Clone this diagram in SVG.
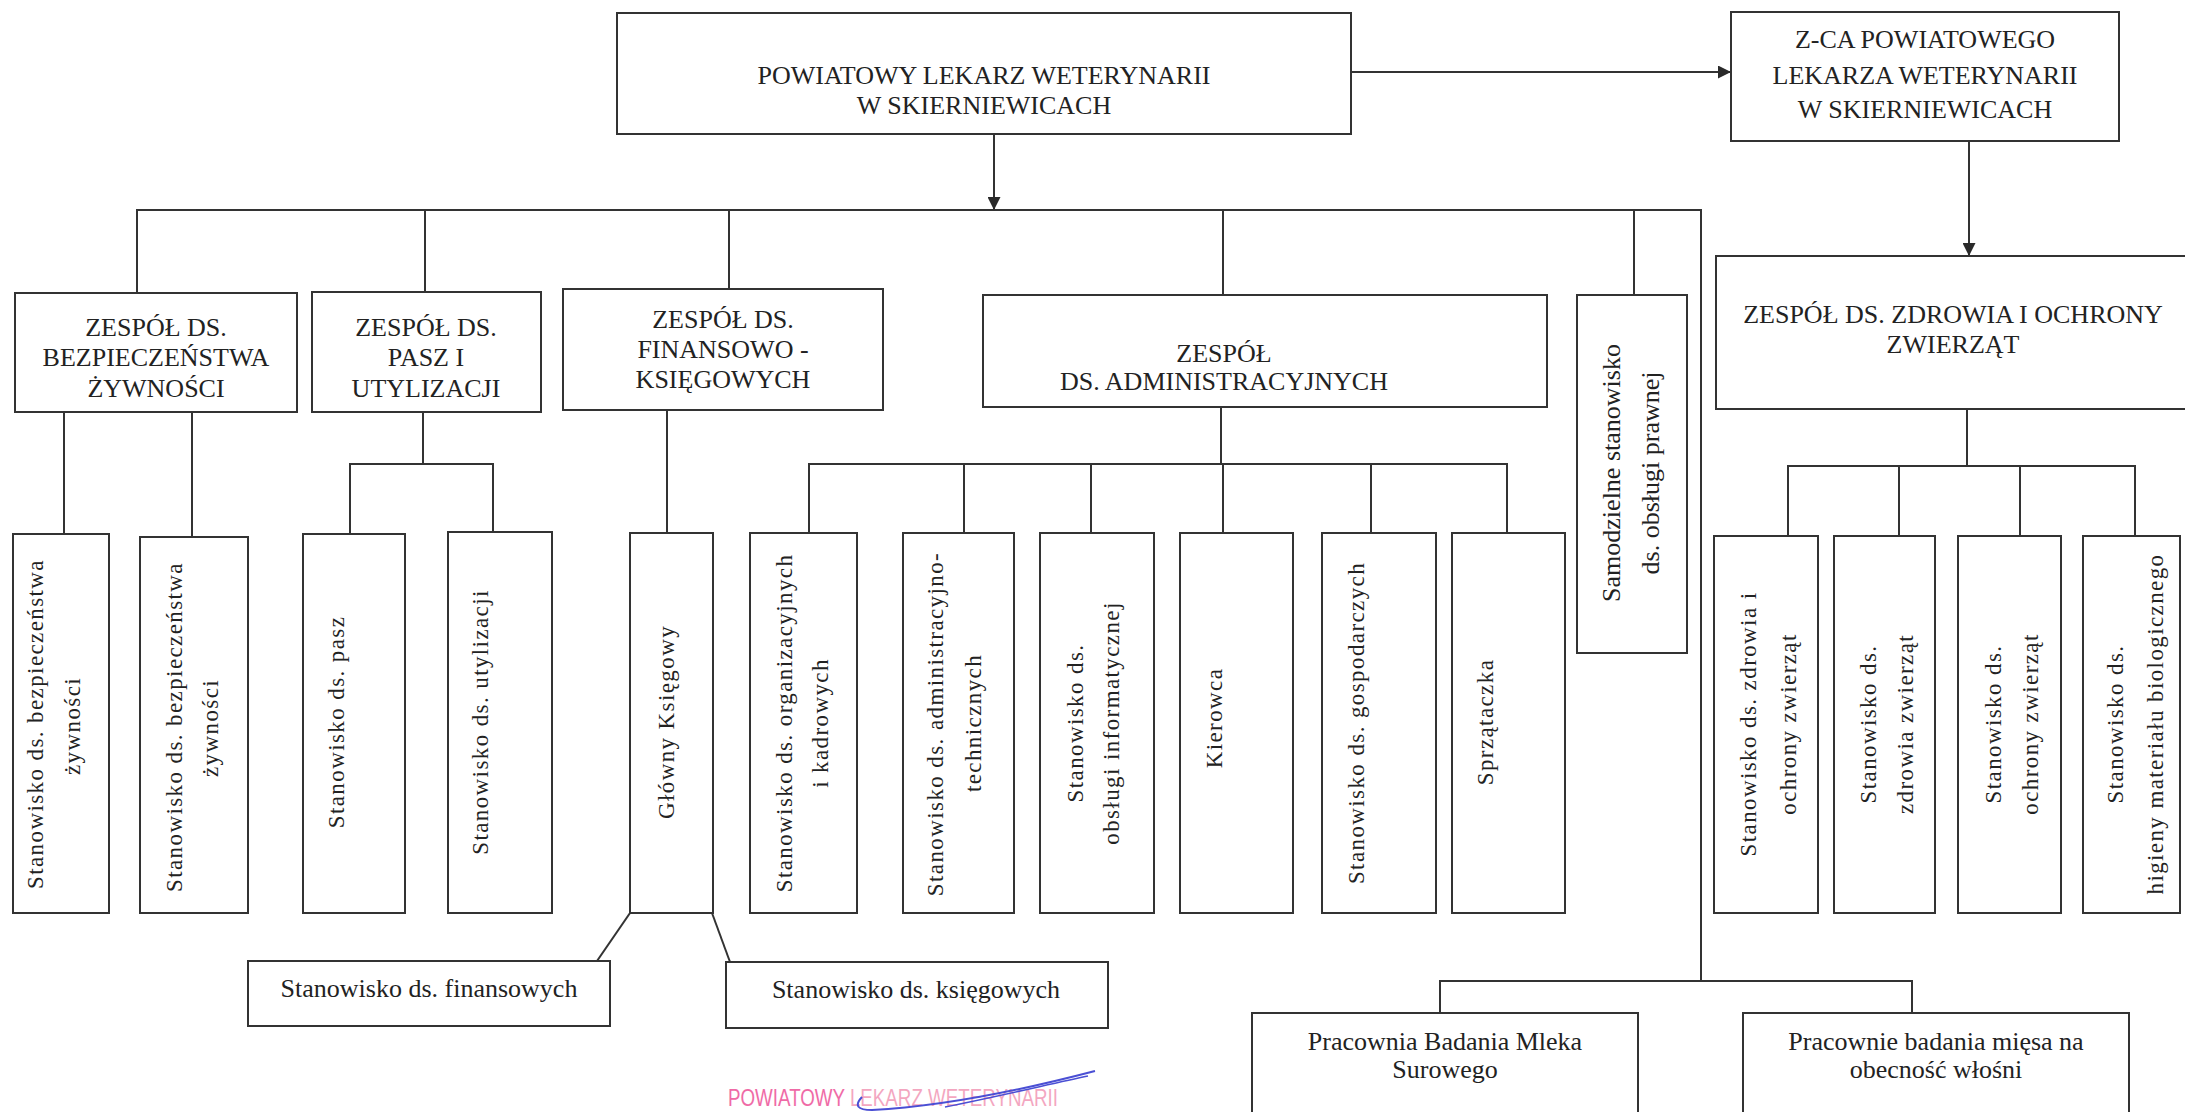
<svg xmlns="http://www.w3.org/2000/svg" width="2185" height="1112" viewBox="0 0 2185 1112">
<defs>
<marker id="arr" viewBox="0 0 10 10" refX="10" refY="5" markerWidth="15" markerHeight="13" markerUnits="userSpaceOnUse" orient="auto">
<path d="M0,0 L10,5 L0,10 z" fill="#2a2a2a"/>
</marker>
<linearGradient id="stampfill" gradientUnits="userSpaceOnUse" x1="728" y1="0" x2="1058" y2="0">
<stop offset="0" stop-color="#ef6aa6"/>
<stop offset="0.37" stop-color="#ef6aa6"/>
<stop offset="0.37" stop-color="#f3a6c0"/>
<stop offset="1" stop-color="#f3a6c0"/>
</linearGradient>
<style>
.box{fill:#fff;stroke:#333;stroke-width:2}
.ln{fill:none;stroke:#333;stroke-width:2}
.h{font-family:"Liberation Serif","Times New Roman",serif;font-size:26px;fill:#222;text-anchor:middle}
.v{font-family:"Liberation Serif","Times New Roman",serif;font-size:23px;letter-spacing:1.4px;fill:#222;text-anchor:middle}
.v2{font-family:"Liberation Serif","Times New Roman",serif;font-size:26px;fill:#222;text-anchor:middle}
.stamp{font-family:"Liberation Sans",Arial,sans-serif;font-size:24px}
</style>
</defs>
<rect width="2185" height="1112" fill="#fff"/>

<g id="connectors">
<line class="ln" x1="994" y1="134" x2="994" y2="210" marker-end="url(#arr)"/>
<line class="ln" x1="1351" y1="72" x2="1731" y2="72" marker-end="url(#arr)"/>
<line class="ln" x1="1969" y1="141" x2="1969" y2="256" marker-end="url(#arr)"/>
<polyline class="ln" points="137,293 137,210 1701,210 1701,981"/>
<line class="ln" x1="425" y1="210" x2="425" y2="292"/>
<line class="ln" x1="729" y1="210" x2="729" y2="289"/>
<line class="ln" x1="1223" y1="210" x2="1223" y2="295"/>
<line class="ln" x1="1634" y1="210" x2="1634" y2="295"/>
<polyline class="ln" points="1440,1013 1440,981 1912,981 1912,1013"/>
<line class="ln" x1="64" y1="412" x2="64" y2="534"/>
<line class="ln" x1="192" y1="412" x2="192" y2="537"/>
<line class="ln" x1="423" y1="412" x2="423" y2="464"/>
<polyline class="ln" points="350,534 350,464 493,464 493,532"/>
<line class="ln" x1="667" y1="410" x2="667" y2="533"/>
<line class="ln" x1="630" y1="913" x2="597" y2="961"/>
<line class="ln" x1="712" y1="913" x2="730" y2="962"/>
<line class="ln" x1="1221" y1="407" x2="1221" y2="464"/>
<polyline class="ln" points="809,533 809,464 1507,464 1507,533"/>
<line class="ln" x1="964" y1="464" x2="964" y2="533"/>
<line class="ln" x1="1091" y1="464" x2="1091" y2="533"/>
<line class="ln" x1="1223" y1="464" x2="1223" y2="533"/>
<line class="ln" x1="1371" y1="464" x2="1371" y2="533"/>
<line class="ln" x1="1967" y1="409" x2="1967" y2="466"/>
<polyline class="ln" points="1788,536 1788,466 2135,466 2135,536"/>
<line class="ln" x1="1899" y1="466" x2="1899" y2="536"/>
<line class="ln" x1="2020" y1="466" x2="2020" y2="536"/>
</g>

<g id="n-main">
<rect class="box" x="617" y="13" width="734" height="121"/>
<text class="h" x="984" y="84">POWIATOWY LEKARZ WETERYNARII</text>
<text class="h" x="984" y="114">W SKIERNIEWICACH</text>
</g>
<g id="n-zca">
<rect class="box" x="1731" y="12" width="388" height="129"/>
<text class="h" x="1925" y="48">Z-CA POWIATOWEGO</text>
<text class="h" x="1925" y="84">LEKARZA WETERYNARII</text>
<text class="h" x="1925" y="118">W SKIERNIEWICACH</text>
</g>
<g id="n-bezp">
<rect class="box" x="15" y="293" width="282" height="119"/>
<text class="h" x="156" y="336">ZESPÓŁ DS.</text>
<text class="h" x="156" y="366">BEZPIECZEŃSTWA</text>
<text class="h" x="156" y="397">ŻYWNOŚCI</text>
</g>
<g id="n-pasz">
<rect class="box" x="312" y="292" width="229" height="120"/>
<text class="h" x="426" y="336">ZESPÓŁ DS.</text>
<text class="h" x="426" y="366">PASZ I</text>
<text class="h" x="426" y="397">UTYLIZACJI</text>
</g>
<g id="n-fin">
<rect class="box" x="563" y="289" width="320" height="121"/>
<text class="h" x="723" y="328">ZESPÓŁ DS.</text>
<text class="h" x="723" y="358">FINANSOWO -</text>
<text class="h" x="723" y="388">KSIĘGOWYCH</text>
</g>
<g id="n-adm">
<rect class="box" x="983" y="295" width="564" height="112"/>
<text class="h" x="1224" y="362">ZESPÓŁ</text>
<text class="h" x="1224" y="390">DS. ADMINISTRACYJNYCH</text>
</g>
<g id="n-zdr">
<rect class="box" x="1716" y="256" width="480" height="153"/>
<text class="h" x="1953" y="323">ZESPÓŁ DS. ZDROWIA I OCHRONY</text>
<text class="h" x="1953" y="353">ZWIERZĄT</text>
</g>

<g id="n-s1">
<rect class="box" x="13" y="534" width="96" height="379"/>
<text class="v" transform="translate(43,724) rotate(-90)">Stanowisko ds. bezpieczeństwa</text>
<text class="v" transform="translate(80,726) rotate(-90)">żywności</text>
</g>
<g id="n-s2">
<rect class="box" x="140" y="537" width="108" height="376"/>
<text class="v" transform="translate(182,727) rotate(-90)">Stanowisko ds. bezpieczeństwa</text>
<text class="v" transform="translate(218,728) rotate(-90)">żywności</text>
</g>
<g id="n-s3">
<rect class="box" x="303" y="534" width="102" height="379"/>
<text class="v" transform="translate(344,722) rotate(-90)">Stanowisko ds. pasz</text>
</g>
<g id="n-s4">
<rect class="box" x="448" y="532" width="104" height="381"/>
<text class="v" transform="translate(488,722) rotate(-90)">Stanowisko ds. utylizacji</text>
</g>
<g id="n-gk">
<rect class="box" x="630" y="533" width="83" height="380"/>
<text class="v" transform="translate(674,722) rotate(-90)">Główny Księgowy</text>
</g>
<g id="n-fin1">
<rect class="box" x="248" y="961" width="362" height="65"/>
<text class="h" x="429" y="997">Stanowisko ds. finansowych</text>
</g>
<g id="n-fin2">
<rect class="box" x="726" y="962" width="382" height="66"/>
<text class="h" x="916" y="998">Stanowisko ds. księgowych</text>
</g>
<g id="n-org">
<rect class="box" x="750" y="533" width="107" height="380"/>
<text class="v" transform="translate(792,723) rotate(-90)">Stanowisko ds. organizacyjnych</text>
<text class="v" transform="translate(828,723) rotate(-90)">i kadrowych</text>
</g>
<g id="n-admt">
<rect class="box" x="903" y="533" width="111" height="380"/>
<text class="v" transform="translate(943,724) rotate(-90)">Stanowisko ds. administracyjno-</text>
<text class="v" transform="translate(981,723) rotate(-90)">technicznych</text>
</g>
<g id="n-inf">
<rect class="box" x="1040" y="533" width="114" height="380"/>
<text class="v" transform="translate(1083,723) rotate(-90)">Stanowisko ds.</text>
<text class="v" transform="translate(1119,723) rotate(-90)">obsługi informatycznej</text>
</g>
<g id="n-kier">
<rect class="box" x="1180" y="533" width="113" height="380"/>
<text class="v" transform="translate(1222,718) rotate(-90)">Kierowca</text>
</g>
<g id="n-gosp">
<rect class="box" x="1322" y="533" width="114" height="380"/>
<text class="v" transform="translate(1364,723) rotate(-90)">Stanowisko ds. gospodarczych</text>
</g>
<g id="n-sprz">
<rect class="box" x="1452" y="533" width="113" height="380"/>
<text class="v" transform="translate(1493,722) rotate(-90)">Sprzątaczka</text>
</g>
<g id="n-praw">
<rect class="box" x="1577" y="295" width="110" height="358"/>
<text class="v2" transform="translate(1620,473) rotate(-90)">Samodzielne stanowisko</text>
<text class="v2" transform="translate(1659,473) rotate(-90)">ds. obsługi prawnej</text>
</g>
<g id="n-z1">
<rect class="box" x="1714" y="536" width="104" height="377"/>
<text class="v" transform="translate(1756,724) rotate(-90)">Stanowisko ds. zdrowia  i</text>
<text class="v" transform="translate(1796,724) rotate(-90)">ochrony zwierząt</text>
</g>
<g id="n-z2">
<rect class="box" x="1834" y="536" width="101" height="377"/>
<text class="v" transform="translate(1876,724) rotate(-90)">Stanowisko ds.</text>
<text class="v" transform="translate(1913,724) rotate(-90)">zdrowia zwierząt</text>
</g>
<g id="n-z3">
<rect class="box" x="1958" y="536" width="103" height="377"/>
<text class="v" transform="translate(2001,724) rotate(-90)">Stanowisko ds.</text>
<text class="v" transform="translate(2038,724) rotate(-90)">ochrony zwierząt</text>
</g>
<g id="n-z4">
<rect class="box" x="2083" y="536" width="97" height="377"/>
<text class="v" transform="translate(2123,724) rotate(-90)">Stanowisko ds.</text>
<text class="v" transform="translate(2163,724) rotate(-90)">higieny materiału biologicznego</text>
</g>
<g id="n-p1">
<rect class="box" x="1252" y="1013" width="386" height="110"/>
<text class="h" x="1445" y="1050">Pracownia Badania Mleka</text>
<text class="h" x="1445" y="1078">Surowego</text>
</g>
<g id="n-p2">
<rect class="box" x="1743" y="1013" width="386" height="110"/>
<text class="h" x="1936" y="1050">Pracownie badania mięsa na</text>
<text class="h" x="1936" y="1078">obecność włośni</text>
</g>

<g id="stamp">
<text class="stamp" x="728" y="1106" fill="url(#stampfill)" textLength="330" lengthAdjust="spacingAndGlyphs">POWIATOWY LEKARZ WETERYNARII</text>
<path d="M862,1097 Q850,1110 872,1110 C950,1106 1030,1088 1095,1071" fill="none" stroke="#4a4fd4" stroke-width="2"/>
<path d="M945,1107 C1000,1096 1050,1084 1088,1076" fill="none" stroke="#4a4fd4" stroke-width="1.5"/>
</g>
</svg>
